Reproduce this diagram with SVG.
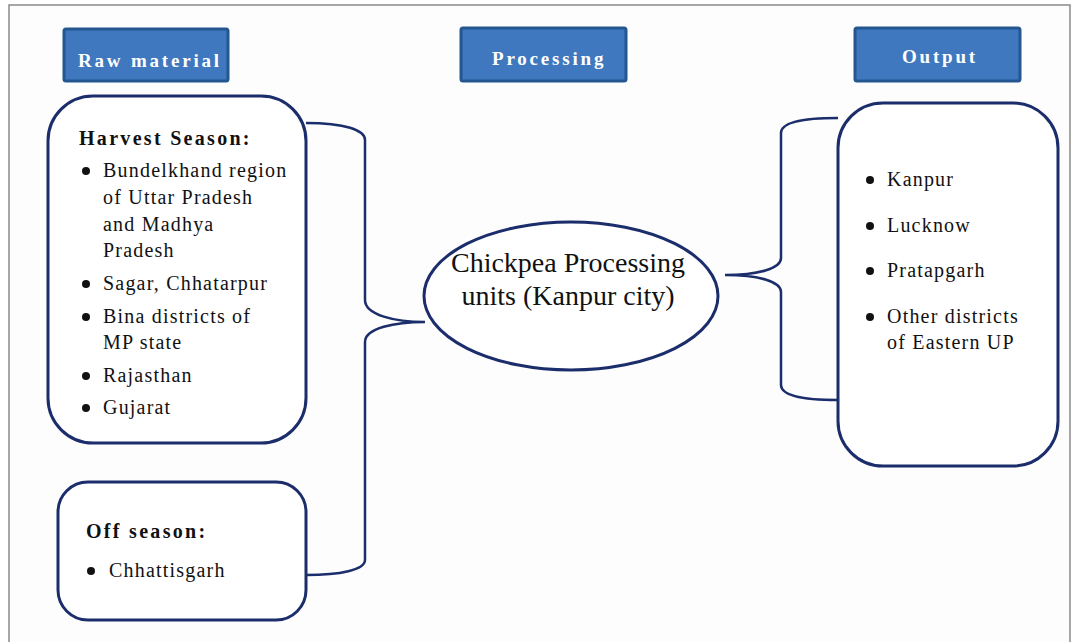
<svg xmlns="http://www.w3.org/2000/svg" width="1077" height="642" viewBox="0 0 1077 642">
<style>
.hdr rect{fill:#3f78be;stroke:#245790;stroke-width:3}
.hdr text{font-family:"Liberation Serif",serif;font-weight:bold;font-size:19px;fill:#fff;letter-spacing:2.8px}
.box{fill:#fff;stroke:#1b2d6b;stroke-width:3}
.t{font-family:"Liberation Serif",serif;font-size:20px;fill:#111;letter-spacing:1.2px}
.tb{font-family:"Liberation Serif",serif;font-size:20px;font-weight:bold;fill:#111;letter-spacing:2.3px}
.el{font-family:"Liberation Serif",serif;font-size:28px;fill:#111}
.b{fill:#111}
.con path{fill:none;stroke:#1b2d6b;stroke-width:2.5}
</style>
<rect x="0" y="0" width="1077" height="642" fill="#ffffff"/>
<rect x="9" y="5" width="1061" height="660" fill="#fdfdfd" stroke="#8a8a8a" stroke-width="1.5"/>

<g id="hdr-raw" class="hdr"><rect x="64" y="29" width="164" height="52" rx="2"/><text x="78" y="67">Raw material</text></g>
<g id="hdr-proc" class="hdr"><rect x="461" y="28" width="165" height="53" rx="2"/><text x="492" y="65">Processing</text></g>
<g id="hdr-out" class="hdr"><rect x="855" y="28" width="165" height="53" rx="2"/><text x="902" y="63">Output</text></g>

<g class="con">
<path d="M306,123 C345,123 365,130 365,140 L365,300 C365,315 395,322 425,322 C395,322 365,328 365,342 L365,560 C365,570 340,575 306,575"/>
<path d="M838,118 C800,118 781,123 781,133 L781,258 C781,268 760,275 725,275 C760,275 781,282 781,292 L781,385 C781,395 800,400 838,400"/>
</g>

<g id="harvest">
<rect class="box" x="48" y="96" width="258" height="347" rx="45"/>
<text class="tb" x="79" y="145">Harvest Season:</text>
<circle class="b" cx="86" cy="171" r="4"/>
<text class="t" x="103" y="177">Bundelkhand region</text>
<text class="t" x="103" y="204">of Uttar Pradesh</text>
<text class="t" x="103" y="231">and Madhya</text>
<text class="t" x="103" y="257">Pradesh</text>
<circle class="b" cx="86" cy="284" r="4"/>
<text class="t" x="103" y="290">Sagar, Chhatarpur</text>
<circle class="b" cx="86" cy="317" r="4"/>
<text class="t" x="103" y="323">Bina districts of</text>
<text class="t" x="103" y="349">MP state</text>
<circle class="b" cx="86" cy="376" r="4"/>
<text class="t" x="103" y="382">Rajasthan</text>
<circle class="b" cx="86" cy="408" r="4"/>
<text class="t" x="103" y="414">Gujarat</text>
</g>

<g id="offseason">
<rect class="box" x="58" y="482" width="248" height="138" rx="30"/>
<text class="tb" x="86" y="538">Off season:</text>
<circle class="b" cx="91" cy="571" r="4"/>
<text class="t" x="109" y="577">Chhattisgarh</text>
</g>

<g id="processing">
<ellipse class="box" cx="571" cy="296" rx="147" ry="74"/>
<text class="el" x="568" y="272" text-anchor="middle">Chickpea Processing</text>
<text class="el" x="568" y="305" text-anchor="middle">units (Kanpur city)</text>
</g>

<g id="output">
<rect class="box" x="838" y="103" width="220" height="363" rx="45"/>
<circle class="b" cx="870" cy="180" r="4"/>
<text class="t" x="887" y="186">Kanpur</text>
<circle class="b" cx="870" cy="226" r="4"/>
<text class="t" x="887" y="232">Lucknow</text>
<circle class="b" cx="870" cy="271" r="4"/>
<text class="t" x="887" y="277">Pratapgarh</text>
<circle class="b" cx="870" cy="317" r="4"/>
<text class="t" x="887" y="323">Other districts</text>
<text class="t" x="887" y="349">of Eastern UP</text>
</g>
</svg>
